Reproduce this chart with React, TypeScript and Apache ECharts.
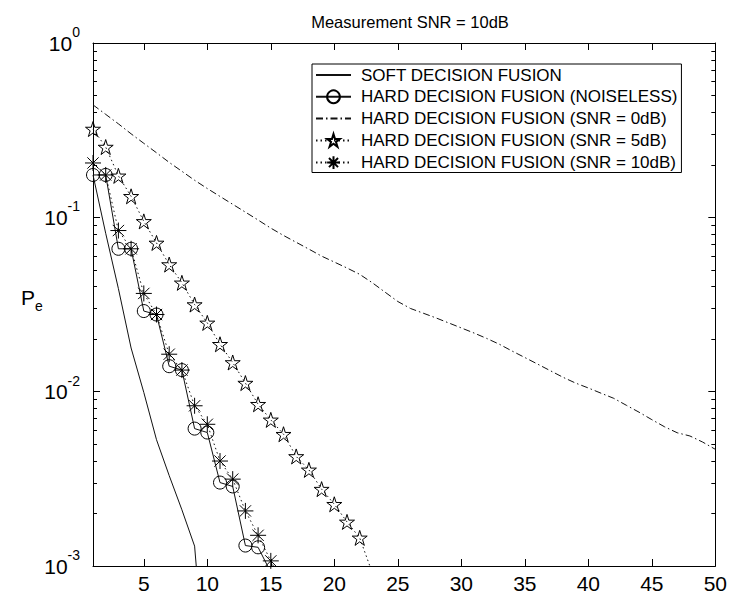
import React, { useEffect, useRef } from "react";
import * as echarts from "echarts";

// Error probability P_e versus number of fused decisions (x = 1, 2, 3, ...)
const softDecision = [0.175, 0.081, 0.039, 0.0178, 0.0099, 0.0053, 0.0033, 0.0021, 0.0013, 0.00017];
const hardNoiseless = [
  0.175, 0.175, 0.066, 0.066, 0.029, 0.0277, 0.014, 0.0133, 0.00614, 0.00583, 0.00301, 0.00286,
  0.00131, 0.00128, 0.00092, 0.00088,
];
const hardSnr0 = [
  0.4416, 0.3897, 0.3438, 0.3013, 0.2658, 0.2346, 0.2066, 0.1837, 0.1632, 0.1463, 0.1318, 0.1188,
  0.1071, 0.0965, 0.0867, 0.0787, 0.0719, 0.0657, 0.0599, 0.0554, 0.0512, 0.0471, 0.0421, 0.0372,
  0.0329, 0.03, 0.0282, 0.0265, 0.0248, 0.0232, 0.0217, 0.0202, 0.0187, 0.0171, 0.0157, 0.0144,
  0.0132, 0.0121, 0.0112, 0.0105, 0.0098, 0.00916, 0.00835, 0.00762, 0.00691, 0.00629, 0.00581,
  0.00557, 0.00514, 0.00467,
];
const hardSnr5 = [
  0.321, 0.253, 0.173, 0.132, 0.0948, 0.0713, 0.0536, 0.0421, 0.0316, 0.0248, 0.0187, 0.0147, 0.0112,
  0.00847, 0.00689, 0.0057, 0.00425, 0.00356, 0.00276, 0.00226, 0.00179, 0.00145, 0.00091,
];
const hardSnr10 = [
  0.205, 0.175, 0.084, 0.066, 0.0366, 0.0277, 0.0164, 0.0133, 0.0083, 0.0065, 0.004, 0.00315, 0.00207,
  0.0015, 0.00107, 0.00076,
];

const xTickValues = [5, 10, 15, 20, 25, 30, 35, 40, 45, 50];
const seriesNames = [
  "SOFT DECISION FUSION",
  "HARD DECISION FUSION (NOISELESS)",
  "HARD DECISION FUSION (SNR = 0dB)",
  "HARD DECISION FUSION (SNR = 5dB)",
  "HARD DECISION FUSION (SNR = 10dB)",
];
const titleText = "Measurement SNR = 10dB";

const FONT = "'Liberation Sans', Arial, Helvetica, sans-serif";
const INK = "#000";
const LINE_INK = "#111";

const STAR =
  "path://M0,-100L22.45,-30.9L95.1,-30.9L36.33,11.8L58.8,80.9L0,38.2L-58.8,80.9L-36.33,11.8L-95.1,-30.9L-22.45,-30.9Z";
const ASTERISK =
  "path://M0,-100L0,100M-100,0L100,0M-70.7,-70.7L70.7,70.7M-70.7,70.7L70.7,-70.7";

const toPairs = (vals: number[]) => vals.map((v, i) => [i + 1, v]);

// minor log ticks (2..9 within each decade), expressed in log10 units
const minorTickLogs: number[] = [];
for (let d = -3; d < 0; d++) {
  for (let k = 2; k <= 9; k++) minorTickLogs.push(d + Math.log10(k));
}

export default function App() {
  const ref = useRef<HTMLDivElement>(null);

  useEffect(() => {
    document.body.style.margin = "0";
    const chart = echarts.init(ref.current!, null, { renderer: "svg" });

    const baseLine = { color: LINE_INK, width: 1 };
    const markerStyle = { color: "none", borderColor: INK, borderWidth: 1 };
    // plain lines: keep a symbol type so the legend icon is an invisible one
    const noMarker = { color: "none", borderColor: "none", borderWidth: 0 };

    const xCommon = {
      type: "value" as const,
      min: 1,
      max: 50,
      splitLine: { show: false },
      axisLine: { show: true, onZero: false, lineStyle: { color: INK, width: 1 } },
      axisTick: { show: true, inside: true, length: 7, customValues: xTickValues, lineStyle: { color: INK } },
    };

    const yLogCommon = {
      type: "log" as const,
      logBase: 10,
      min: 0.001,
      max: 1,
      splitLine: { show: false },
      minorTick: { show: false },
      axisLine: { show: true, onZero: false, lineStyle: { color: INK, width: 1 } },
      axisTick: { show: true, inside: true, length: 7, lineStyle: { color: INK } },
    };

    const yMinorCommon = {
      type: "value" as const,
      min: -3,
      max: 0,
      splitLine: { show: false },
      axisLine: { show: false },
      axisLabel: { show: false },
      axisTick: { show: true, inside: true, length: 4, customValues: minorTickLogs, lineStyle: { color: INK } },
    };

    chart.setOption({
      animation: false,
      backgroundColor: "#fff",
      title: {
        text: titleText,
        left: 405,
        top: 8,
        textAlign: "center",
        textStyle: { fontFamily: FONT, fontSize: 16.5, fontWeight: "normal", color: INK },
      },
      grid: { left: 93, top: 43, width: 624, height: 524, containLabel: false },
      xAxis: [
        {
          ...xCommon,
          position: "bottom",
          axisLabel: {
            show: true,
            customValues: xTickValues,
            margin: 7,
            fontFamily: FONT,
            fontSize: 21,
            color: INK,
          },
        },
        { ...xCommon, position: "top", axisLabel: { show: false } },
      ],
      yAxis: [
        {
          ...yLogCommon,
          position: "left",
          axisLabel: {
            show: true,
            margin: 13,
            formatter: (v: number) => `{b|10}{s|${Math.round(Math.log10(v))}}`,
            rich: {
              b: { fontFamily: FONT, fontSize: 21, lineHeight: 36, verticalAlign: "middle", color: INK },
              s: { fontFamily: FONT, fontSize: 14, lineHeight: 14, verticalAlign: "top", color: INK },
            },
          },
        },
        { ...yLogCommon, position: "right", axisLabel: { show: false } },
        { ...yMinorCommon, position: "left" },
        { ...yMinorCommon, position: "right" },
      ],
      legend: {
        orient: "vertical",
        left: 312,
        top: 64,
        padding: [2.5, 4, 1, 3],
        itemGap: 4.4,
        itemWidth: 35,
        itemHeight: 16,
        borderColor: INK,
        borderWidth: 1,
        borderRadius: 0,
        backgroundColor: "#fff",
        selectedMode: false,
        textStyle: { fontFamily: FONT, fontSize: 17, color: INK, lineHeight: 16, padding: [0, 0, 0, 5] },
        data: seriesNames,
      },
      series: [
        {
          name: seriesNames[0],
          type: "line",
          data: toPairs(softDecision),
          symbol: "circle",
          showSymbol: false,
          lineStyle: { ...baseLine },
          itemStyle: noMarker,
          silent: true,
        },
        {
          name: seriesNames[1],
          type: "line",
          data: toPairs(hardNoiseless),
          symbol: "circle",
          symbolSize: 13,
          showAllSymbol: true,
          lineStyle: { ...baseLine },
          itemStyle: markerStyle,
          silent: true,
        },
        {
          name: seriesNames[2],
          type: "line",
          data: toPairs(hardSnr0),
          symbol: "circle",
          showSymbol: false,
          lineStyle: { ...baseLine, type: [7, 3, 1.5, 3] },
          itemStyle: noMarker,
          silent: true,
        },
        {
          name: seriesNames[3],
          type: "line",
          data: toPairs(hardSnr5),
          symbol: STAR,
          symbolSize: 15,
          showAllSymbol: true,
          lineStyle: { ...baseLine, type: [1.5, 3] },
          itemStyle: markerStyle,
          silent: true,
        },
        {
          name: seriesNames[4],
          type: "line",
          data: toPairs(hardSnr10),
          symbol: ASTERISK,
          symbolSize: 16,
          showAllSymbol: true,
          lineStyle: { ...baseLine, type: [1.5, 3] },
          itemStyle: markerStyle,
          silent: true,
        },
      ],
      graphic: [
        {
          type: "text",
          left: 21,
          top: 287,
          style: { text: "P", fontFamily: FONT, fontSize: 21, fill: INK },
          silent: true,
        },
        {
          type: "text",
          left: 35,
          top: 299,
          style: { text: "e", fontFamily: FONT, fontSize: 14, fill: INK },
          silent: true,
        },
      ],
    });

    return () => chart.dispose();
  }, []);

  return <div ref={ref} style={{ width: 730, height: 594 }} />;
}
